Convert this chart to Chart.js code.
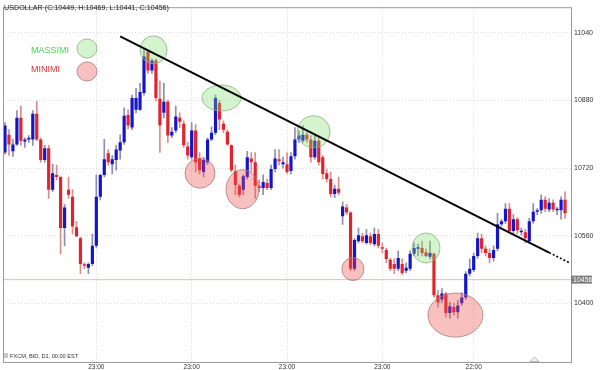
<!DOCTYPE html>
<html>
<head>
<meta charset="utf-8">
<script src="https://cdn.jsdelivr.net/npm/chart.js@4"></script>
<style>
html, body { margin: 0; padding: 0; background: #fff; }
#box { width: 600px; height: 370px; }
</style>
</head>
<body>
<div id="box"><canvas id="grafico"></canvas></div>
<script>
// candele giornaliere USDOLLAR
const aperture = [
  10757, 10799, 10760, 10776, 10839, 10783, 10788, 10788, 10849, 10788,
  10739, 10767, 10669, 10704, 10699, 10578, 10669, 10652, 10580, 10554,
  10491, 10484, 10493, 10536, 10652, 10704, 10755, 10729, 10739, 10762,
  10781, 10846, 10816, 10858, 10858, 10898, 10996, 10951, 10975, 10884,
  10851, 10877, 10797, 10809, 10839, 10825, 10771, 10746, 10809, 10743,
  10711, 10734, 10788, 10804, 10874, 10825, 10806, 10774, 10713, 10678,
  10669, 10699, 10743, 10734, 10678, 10673, 10685, 10673, 10718, 10741,
  10729, 10729, 10713, 10748, 10788, 10785, 10799, 10788, 10746, 10785,
  10746, 10708, 10694, 10659, 10671, 10606, 10627, 10615, 10482, 10547,
  10559, 10543, 10559, 10540, 10564, 10531, 10526, 10503, 10493, 10482,
  10493, 10477, 10482, 10517, 10529, 10531, 10521, 10510, 10517, 10419,
  10409, 10423, 10377, 10391, 10379, 10400, 10414, 10470, 10479, 10512,
  10554, 10529, 10519, 10507, 10529, 10587, 10594, 10624, 10571, 10599,
  10568, 10568, 10547, 10594, 10617, 10620, 10645, 10622, 10638, 10620,
  10620, 10645
];
const massimi = [
  10828, 10811, 10788, 10856, 10867, 10792, 10797, 10856, 10879, 10792,
  10774, 10774, 10729, 10727, 10701, 10634, 10699, 10669, 10594, 10557,
  10496, 10496, 10564, 10704, 10706, 10788, 10764, 10750, 10774, 10799,
  10863, 10858, 10893, 10909, 10921, 11003, 11000, 10979, 10979, 10926,
  10921, 10881, 10816, 10867, 10851, 10832, 10781, 10828, 10823, 10757,
  10746, 10792, 10818, 10893, 10881, 10832, 10811, 10776, 10727, 10683,
  10704, 10760, 10757, 10757, 10692, 10704, 10694, 10727, 10764, 10764,
  10746, 10757, 10757, 10816, 10809, 10821, 10804, 10797, 10797, 10792,
  10750, 10718, 10711, 10680, 10699, 10640, 10634, 10617, 10554, 10578,
  10566, 10575, 10566, 10578, 10575, 10543, 10531, 10507, 10505, 10524,
  10505, 10496, 10524, 10543, 10540, 10547, 10529, 10547, 10519, 10430,
  10435, 10426, 10402, 10400, 10407, 10426, 10475, 10505, 10519, 10566,
  10564, 10536, 10529, 10536, 10613, 10599, 10636, 10636, 10610, 10603,
  10578, 10575, 10601, 10636, 10624, 10657, 10652, 10648, 10645, 10627,
  10652, 10664
];
const minimi = [
  10753, 10750, 10748, 10774, 10774, 10769, 10781, 10774, 10785, 10734,
  10734, 10648, 10664, 10692, 10517, 10536, 10648, 10564, 10557, 10470,
  10482, 10470, 10489, 10531, 10645, 10699, 10727, 10706, 10715, 10741,
  10776, 10813, 10811, 10851, 10856, 10893, 10944, 10944, 10879, 10757,
  10839, 10781, 10792, 10804, 10816, 10769, 10741, 10741, 10711, 10706,
  10699, 10729, 10785, 10799, 10811, 10804, 10774, 10711, 10657, 10652,
  10657, 10694, 10711, 10648, 10664, 10657, 10669, 10669, 10711, 10727,
  10720, 10706, 10706, 10741, 10781, 10781, 10781, 10734, 10741, 10727,
  10694, 10687, 10652, 10650, 10657, 10587, 10610, 10477, 10477, 10543,
  10543, 10540, 10538, 10536, 10531, 10519, 10496, 10477, 10470, 10477,
  10468, 10472, 10477, 10512, 10512, 10512, 10510, 10505, 10414, 10391,
  10402, 10367, 10365, 10372, 10365, 10395, 10409, 10465, 10475, 10507,
  10519, 10512, 10496, 10500, 10524, 10582, 10589, 10566, 10564, 10564,
  10561, 10543, 10543, 10589, 10610, 10613, 10617, 10617, 10617, 10610,
  10599, 10601
];
const chiusure = [
  10821, 10776, 10776, 10839, 10785, 10788, 10792, 10849, 10788, 10739,
  10767, 10669, 10708, 10699, 10578, 10627, 10657, 10582, 10559, 10493,
  10489, 10493, 10536, 10652, 10704, 10741, 10734, 10741, 10764, 10781,
  10844, 10821, 10886, 10886, 10900, 10984, 10951, 10975, 10886, 10821,
  10877, 10797, 10806, 10842, 10830, 10774, 10750, 10809, 10734, 10715,
  10739, 10788, 10804, 10886, 10835, 10811, 10776, 10715, 10680, 10657,
  10701, 10746, 10734, 10678, 10673, 10687, 10673, 10718, 10743, 10736,
  10734, 10711, 10748, 10788, 10797, 10799, 10788, 10746, 10785, 10734,
  10706, 10694, 10659, 10671, 10662, 10629, 10615, 10482, 10550, 10561,
  10547, 10561, 10543, 10564, 10536, 10529, 10505, 10482, 10482, 10507,
  10472, 10484, 10517, 10531, 10530, 10519, 10512, 10519, 10419, 10402,
  10423, 10377, 10393, 10379, 10395, 10414, 10470, 10482, 10512, 10554,
  10529, 10519, 10507, 10526, 10587, 10594, 10624, 10571, 10599, 10573,
  10570, 10554, 10594, 10617, 10618, 10645, 10624, 10638, 10622, 10621,
  10645, 10613
];

const tickY = [10400, 10560, 10720, 10880, 11040];
const tickX = [23, 47, 71, 95, 118];
const etichetteX = ['23:00', '23:00', '23:00', '23:00', '22:00'];
const prezzoAttuale = 10456;

// linea di tendenza: tratto pieno e prolungamento punteggiato
const trendX = [29, 137];
const trendY = [11032, 10520];
const prolungX = [137, 142.3];
const prolungY = [10520, 10495];

// cerchi dei massimi e dei minimi (indice candela, prezzo)
const cerchiMassimiX = [37.4, 54.5, 77.7, 106.0];
const cerchiMassimiY = [11000, 10886, 10806, 10531];
const cerchiMinimiX = [49.1, 59.8, 87.6, 113.4];
const cerchiMinimiY = [10708, 10670, 10481, 10372];

const raggiMassimi = [[13.5, 14], [19.5, 13], [16.5, 16], [14, 15]];
const raggiMinimi = [[15, 15], [16.5, 19.5], [11, 11.5], [27.5, 22]];

const BLU = '#1414cc';
const ROSSO = '#e3222b';
const VERDE_F = 'rgba(120,220,100,0.32)';
const VERDE_B = '#8fae88';
const ROSA_F = 'rgba(238,80,80,0.36)';
const ROSA_B = '#a87c7c';
const FONT = "'Liberation Sans', Arial, sans-serif";

const su = aperture.map((o, i) => chiusure[i] >= o);

function ellisse(ctx, x, y, rx, ry, fill, stroke) {
    ctx.beginPath();
    ctx.ellipse(x, y, rx, ry, 0, 0, Math.PI * 2);
    ctx.fillStyle = fill;
    ctx.fill();
    ctx.lineWidth = 0.8;
    ctx.strokeStyle = stroke;
    ctx.stroke();
}

const decorazioni = {
    id: 'decorazioni',
    afterDatasetDraw(chart, args) {
        if (args.index !== 3) return;
        const { ctx, scales: { x, y } } = chart;
        ctx.save();
        cerchiMassimiX.forEach((v, i) => {
            ellisse(ctx, x.getPixelForValue(v), y.getPixelForValue(cerchiMassimiY[i]),
                raggiMassimi[i][0], raggiMassimi[i][1], VERDE_F, VERDE_B);
        });
        cerchiMinimiX.forEach((v, i) => {
            ellisse(ctx, x.getPixelForValue(v), y.getPixelForValue(cerchiMinimiY[i]),
                raggiMinimi[i][0], raggiMinimi[i][1], ROSA_F, ROSA_B);
        });
        ctx.restore();
    },
    afterDraw(chart) {
        const { ctx, chartArea: a, scales: { y } } = chart;
        ctx.save();
        // bordo
        ctx.strokeStyle = '#9a9a9a';
        ctx.lineWidth = 1;
        ctx.strokeRect(a.left + 0.5, a.top + 0.5, a.right - a.left, a.bottom - a.top);

        // titolo
        ctx.fillStyle = '#222';
        ctx.font = '7.2px ' + FONT;
        ctx.textBaseline = 'middle';
        ctx.fillText('USDOLLAR (C:10449, H:10469, L:10441, C:10456)', 4, 8);

        // legenda
        ctx.font = '9px ' + FONT;
        ctx.fillStyle = '#44d844';
        ctx.fillText('MASSIMI', 31, 51);
        ctx.fillStyle = '#dd3030';
        ctx.fillText('MINIMI', 31, 70);
        ellisse(ctx, 87, 48.5, 10, 9.5, VERDE_F, VERDE_B);
        ellisse(ctx, 87, 71.5, 10, 9.5, ROSA_F, ROSA_B);

        // fonte
        ctx.fillStyle = '#c8c8c8';
        ctx.fillRect(4, 353, 4, 5);
        ctx.fillStyle = '#333';
        ctx.font = '5.6px ' + FONT;
        ctx.fillText('FXCM, BID, D1, 00:00 EST', 10, 356);

        // triangolo
        ctx.beginPath();
        ctx.moveTo(530, 361.5);
        ctx.lineTo(534.5, 357);
        ctx.lineTo(539, 361.5);
        ctx.closePath();
        ctx.fillStyle = '#f2f2f2';
        ctx.fill();
        ctx.strokeStyle = '#a8a8a8';
        ctx.lineWidth = 0.8;
        ctx.stroke();

        // etichetta prezzo attuale
        const py = y.getPixelForValue(prezzoAttuale);
        ctx.fillStyle = '#7d7d7d';
        ctx.fillRect(a.right, py - 4, 21, 8);
        ctx.fillStyle = '#fff';
        ctx.font = '7px ' + FONT;
        ctx.fillText(String(prezzoAttuale), a.right + 2, py + 0.5);
        ctx.restore();
    }
};

const corpi = aperture.map((o, i) => ({ x: i, y: [o, chiusure[i]] }));
const stoppini = aperture.map((o, i) => ({ x: i, y: [minimi[i], massimi[i]] }));

new Chart(document.getElementById('grafico'), {
    type: 'bar',
    data: {
        datasets: [
            {
                type: 'line',
                data: trendX.map((v, i) => ({ x: v, y: trendY[i] })),
                borderColor: '#000',
                borderWidth: 2,
                pointRadius: 0,
                order: 0
            },
            {
                type: 'line',
                data: prolungX.map((v, i) => ({ x: v, y: prolungY[i] })),
                borderColor: '#000',
                borderWidth: 1.6,
                borderDash: [2, 2],
                pointRadius: 0,
                order: 0
            },
            {
                type: 'line',
                data: [{ x: -0.5, y: prezzoAttuale }, { x: 142.5, y: prezzoAttuale }],
                borderColor: '#f3b9b9',
                borderWidth: 1,
                pointRadius: 0,
                order: 5
            },
            {
                data: corpi,
                backgroundColor: su.map(s => s ? BLU : ROSSO),
                grouped: false,
                barPercentage: 0.8,
                categoryPercentage: 1,
                minBarLength: 1.5,
                order: 2
            },
            {
                data: stoppini,
                backgroundColor: su.map(s => s ? '#8c8cb4' : '#d98c8c'),
                grouped: false,
                barThickness: 1,
                order: 3
            }
        ]
    },
    options: {
        responsive: true,
        maintainAspectRatio: false,
        animation: false,
        layout: { padding: { left: 3, top: 3, right: 0, bottom: 0 } },
        plugins: { legend: { display: false }, tooltip: { enabled: false } },
        scales: {
            x: {
                type: 'linear',
                min: -0.5,
                max: 142.5,
                offset: false,
                grid: { offset: false, color: '#d8d8d8', drawTicks: false },
                border: { display: false, dash: [1, 2] },
                afterBuildTicks: s => { s.ticks = tickX.map(v => ({ value: v })); },
                afterFit: s => { s.height = 8; },
                ticks: {
                    callback: (v, i) => etichetteX[i],
                    color: '#333',
                    font: { size: 6.5, family: FONT },
                    padding: 1,
                    maxRotation: 0,
                    autoSkip: false
                }
            },
            y: {
                position: 'right',
                min: 10261,
                max: 11101,
                grid: { color: '#dcdcdc', drawTicks: false },
                border: { display: false, dash: [1, 2] },
                afterBuildTicks: s => { s.ticks = tickY.map(v => ({ value: v })); },
                afterFit: s => { s.width = 29; },
                ticks: {
                    callback: v => String(v),
                    color: '#333',
                    font: { size: 7, family: FONT },
                    padding: 3
                }
            }
        }
    },
    plugins: [decorazioni]
});
</script>
</body>
</html>
